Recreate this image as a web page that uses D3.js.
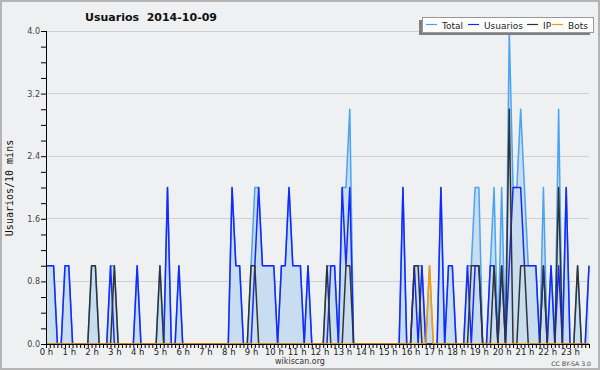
<!DOCTYPE html>
<html><head><meta charset="utf-8">
<script src="https://cdn.jsdelivr.net/npm/d3@7"></script>
<style>
html,body{margin:0;padding:0;background:#f0f0f0;}
svg{display:block;}
</style></head>
<body>
<script>
// ---- data (values per 10-minute slot, 144 slots) ----
const hours = d3.range(24).map(h => h + " h");
const yTicks = [0, 0.8, 1.6, 2.4, 3.2, 4.0];
const seriesNames = ["Total", "Usuarios", "IP", "Bots"];
const seriesColors = ["#4aa3f5", "#1428ff", "#333333", "#ff9900"];

const usuarios = [
 1,1,1,0,0,1,1,0,0,0, 0,0,0,0,0,0,0,1,0,0,
 0,0,0,0,1,0,0,0,0,0, 0,0,2,0,0,1,0,0,0,0,
 0,0,0,0,0,0,0,0,0,2, 1,1,0,0,0,1,2,1,1,1,
 1,0,1,1,2,1,1,1,0,1, 0,0,0,0,0,1,1,0,2,1,
 2,0,0,0,0,0,0,0,0,0, 0,0,0,0,2,0,0,1,0,1,
 0,0,0,0,2,0,1,1,0,0, 0,1,0,1,1,0,0,1,1,0,
 1,0,1,2,2,2,1,1,1,1, 0,1,0,1,0,1,0,2,0,0,
 0,0,0,1];
const ip = [
 0,0,0,0,0,0,0,0,0,0, 0,0,1,1,0,0,0,0,1,0,
 0,0,0,0,0,0,0,0,0,0, 1,0,0,0,0,0,0,0,0,0,
 0,0,0,0,0,0,0,0,0,0, 0,0,0,0,1,1,0,0,0,0,
 0,0,0,0,0,0,0,0,0,0, 0,0,0,0,1,0,0,0,0,1,
 1,0,0,0,0,0,0,0,0,0, 0,0,0,0,0,0,0,1,1,0,
 0,0,0,0,0,0,0,0,0,0, 0,0,1,1,1,0,0,0,1,0,
 1,0,3,0,0,1,1,0,0,0, 0,1,0,0,0,2,0,0,0,0,
 1,0,0,0];
const bots = [
 0,0,0,0,0,0,0,0,0,0, 0,0,0,0,0,0,0,0,0,0,
 0,0,0,0,0,0,0,0,0,0, 0,0,0,0,0,0,0,0,0,0,
 0,0,0,0,0,0,0,0,0,0, 0,0,0,0,0,0,0,0,0,0,
 0,0,0,0,0,0,0,0,0,0, 0,0,0,0,0,0,0,0,0,0,
 0,0,0,0,0,0,0,0,0,0, 0,0,0,0,0,0,0,0,0,0,
 0,1,0,0,0,0,0,0,0,0, 0,0,0,0,0,0,0,0,0,0,
 0,0,0,0,0,0,0,0,0,0, 0,0,0,0,0,0,0,0,0,0,
 0,0,0,0];
const total = [
 1,1,1,0,0,1,1,0,0,0, 0,0,1,1,0,0,0,1,1,0,
 0,0,0,0,1,0,0,0,0,0, 1,0,2,0,0,1,0,0,0,0,
 0,0,0,0,0,0,0,0,0,2, 1,1,0,0,1,2,2,1,1,1,
 1,0,1,1,2,1,1,1,0,1, 0,0,0,0,1,1,1,0,2,2,
 3,0,0,0,0,0,0,0,0,0, 0,0,0,0,2,0,0,1,1,1,
 0,1,0,0,2,0,1,1,0,0, 0,1,1,2,2,0,0,1,2,0,
 2,0,4,2,2,3,2,1,1,1, 0,2,0,1,0,3,0,2,0,0,
 1,0,0,1];

const W = 600, H = 370;
const svg = d3.select("body").append("svg").attr("width", W).attr("height", H);
svg.append("rect").attr("x",1).attr("y",1).attr("width",W-2).attr("height",H-2)
  .attr("fill","#eff0f1").attr("stroke","#b4b4b4").attr("stroke-width",2);

const x = d3.scaleLinear().domain([0, 143]).range([46, 589]);
const y = d3.scaleLinear().domain([0, 4]).range([344, 31]);

// grid
svg.append("g").selectAll("line").data(yTicks.slice(1)).join("line")
  .attr("x1", 46).attr("x2", 589).attr("y1", d => y(d)).attr("y2", d => y(d))
  .attr("stroke", "#cfcfcf").attr("stroke-width", 1).attr("shape-rendering","crispEdges");

// area + lines
const area = d3.area().x((d,i) => x(i)).y0(y(0)).y1(d => y(d));
svg.append("path").datum(total).attr("d", area).attr("fill", "#c8ddf0");
const line = d3.line().x((d,i) => x(i)).y(d => y(d));
[total, usuarios, ip, bots].forEach((s, k) => {
  svg.append("path").datum(s).attr("d", line).attr("fill","none")
    .attr("stroke", seriesColors[k]).attr("stroke-width", 1.5).attr("stroke-linejoin","round");
});

// x axis
const xAxis = d3.axisBottom(x).tickValues(d3.range(144)).tickSize(4).tickPadding(1)
  .tickFormat(i => i % 6 === 0 ? hours[i/6] : "");
const gx = svg.append("g").attr("transform", `translate(0,${y(0)})`).call(xAxis);
gx.select(".domain").attr("stroke","#000").attr("d", `M46,0.5H589`);
gx.selectAll(".tick line").attr("stroke","#000");
gx.selectAll("text").attr("font-family","DejaVu Sans").attr("font-size", 8.5).attr("fill","#222");

// y axis
const yAxis = d3.axisLeft(y).tickValues(d3.range(0, 4.01, 0.2)).tickSize(5).tickPadding(1)
  .tickFormat(v => { const r = Math.round(v*10); return r % 8 === 0 ? d3.format(".1f")(v) : ""; });
const gy = svg.append("g").attr("transform", `translate(46,0)`).call(yAxis);
gy.select(".domain").attr("stroke","#000").attr("d", `M0.5,31V344`);
gy.selectAll(".tick line").attr("stroke","#000");
gy.selectAll("text").attr("font-family","DejaVu Sans").attr("font-size", 8).attr("fill","#444");

// title
svg.append("text").attr("x", 151).attr("y", 21).attr("text-anchor","middle")
  .attr("font-family","DejaVu Sans").attr("font-weight","bold").attr("font-size", 11)
  .attr("fill","#111").attr("xml:space","preserve").text("Usuarios  2014-10-09");

// y label
svg.append("text").attr("transform","translate(13,188) rotate(-90)").attr("text-anchor","middle")
  .attr("font-family","DejaVu Sans Mono").attr("font-size", 10).attr("fill","#111")
  .text("Usuarios/10 mins");

// footer
svg.append("text").attr("x", 300).attr("y", 364).attr("text-anchor","middle")
  .attr("font-family","DejaVu Sans").attr("font-size", 8).attr("fill","#333").text("wikiscan.org");
svg.append("text").attr("x", 591).attr("y", 366).attr("text-anchor","end")
  .attr("font-family","DejaVu Sans").attr("font-size", 6.2).attr("fill","#444").text("CC BY-SA 3.0");

// legend
const lg = svg.append("g");
lg.append("rect").attr("x", 419).attr("y", 20).attr("width", 171).attr("height", 15).attr("fill","#808080");
lg.append("rect").attr("x", 422.5).attr("y", 17.5).attr("width", 171).attr("height", 15)
  .attr("fill","#fff").attr("stroke","#999");
const lx = [426, 468, 527, 552];
seriesNames.forEach((n, k) => {
  lg.append("line").attr("x1", lx[k]).attr("x2", lx[k]+11).attr("y1", 24.5).attr("y2", 24.5)
    .attr("stroke", seriesColors[k]).attr("stroke-width", 1.2);
  lg.append("text").attr("x", lx[k]+16).attr("y", 28.5).attr("font-family","DejaVu Sans")
    .attr("font-size", 9).attr("fill","#222").text(n);
});
</script>
</body></html>
